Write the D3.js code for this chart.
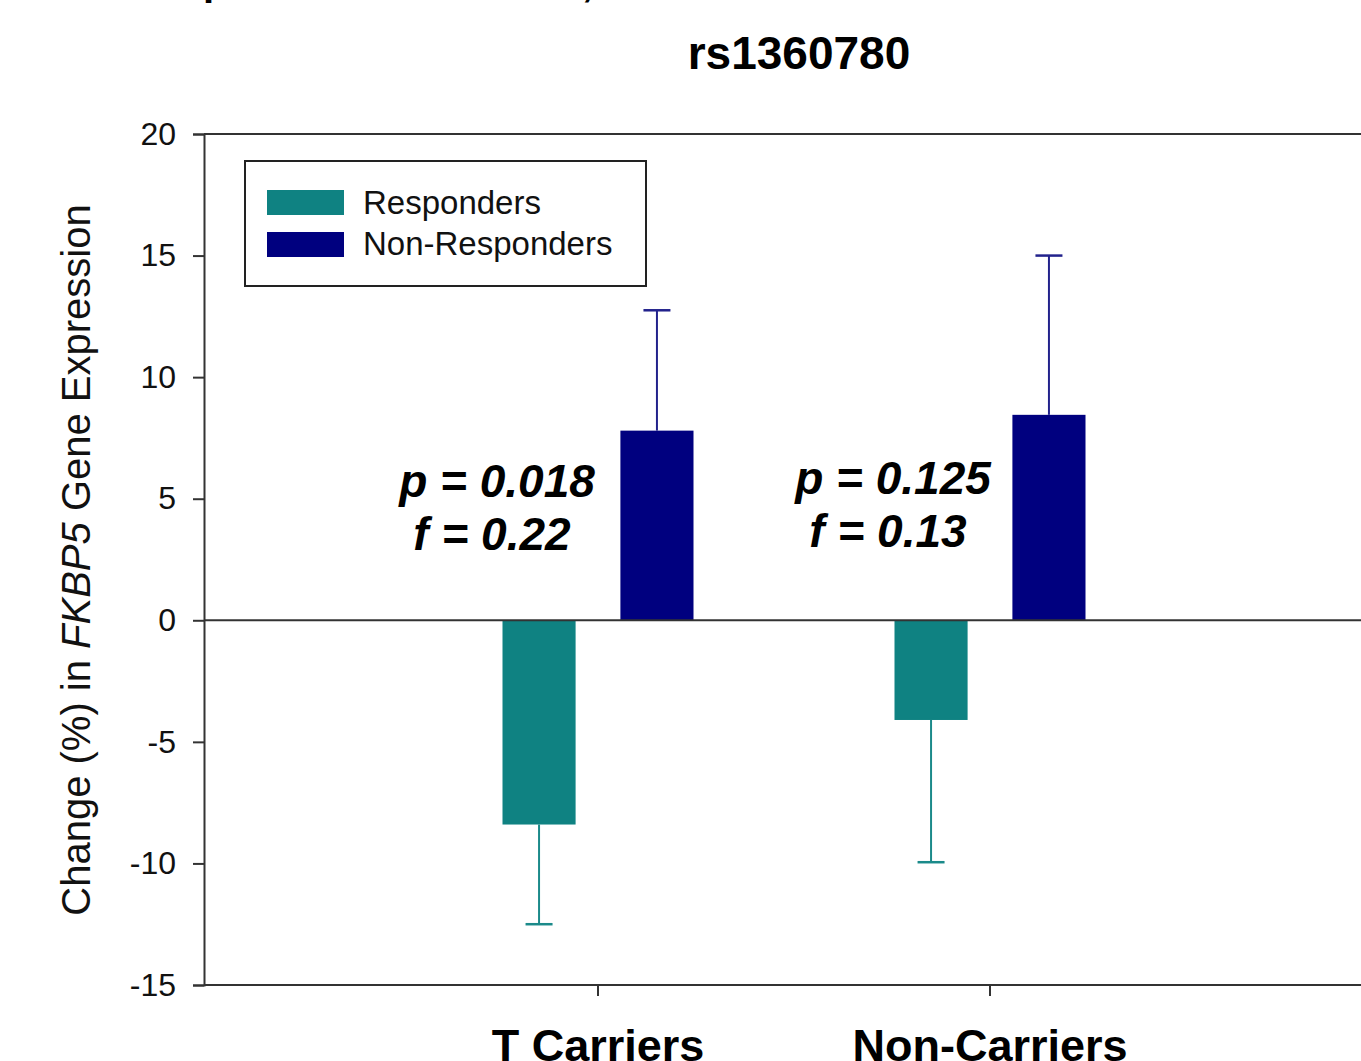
<!DOCTYPE html>
<html>
<head>
<meta charset="utf-8">
<script src="https://cdn.jsdelivr.net/npm/d3@7"></script>
<style>
  html, body { margin: 0; padding: 0; background: #fff; overflow: hidden; }
  svg { display: block; font-family: "Liberation Sans", Arial, sans-serif; }
</style>
</head>
<body>
<svg id="chart" width="1361" height="1061"></svg>
<script>
// Genotype groups and the two response series
const categories = ["T Carriers", "Non-Carriers"];
const seriesNames = ["Responders", "Non-Responders"];
const responderMeans = [-8.4, -4.1];
const responderErrors = [4.1, 5.85];     // error bar drawn downward
const nonResponderMeans = [7.8, 8.45];
const nonResponderErrors = [4.95, 6.55]; // error bar drawn upward
const pValues = ["p = 0.018", "p = 0.125"];
const fValues = ["f = 0.22", "f = 0.13"];
const yTicks = [-15, -10, -5, 0, 5, 10, 15, 20];
const titleText = "rs1360780";

const colors = { "Responders": "#0f8282", "Non-Responders": "#00007f" };
const errColors = { "Responders": "#1b8a8a", "Non-Responders": "#22228c" };

const svg = d3.select("#chart");
const axisColor = "#333";

const plotLeft = 204, plotTop = 134, plotBottom = 985, plotRight = 1400;

const y = d3.scaleLinear().domain([-15, 20]).range([plotBottom, plotTop]);
const x = d3.scaleBand().domain(categories).range([402, 1186]).padding(0);
const xi = d3.scaleBand().domain(seriesNames).range([-95.5, 95.5]).paddingInner(0.38).paddingOuter(0);

// Partially visible heading line above the chart
svg.append("text").attr("x", 203).attr("y", -5)
  .attr("font-size", 40).attr("font-weight", "bold").attr("fill", "#000").text("p");
svg.append("text").attr("x", 582).attr("y", -4)
  .attr("font-size", 40).attr("font-weight", "bold").attr("fill", "#000").text(",");

// Title
svg.append("text").attr("x", 799).attr("y", 69).attr("text-anchor", "middle")
  .attr("font-size", 46).attr("font-weight", "bold").attr("fill", "#000").text(titleText);

// Flatten data
const rows = [];
categories.forEach((c, i) => {
  rows.push({ cat: c, series: "Responders", value: responderMeans[i], err: responderErrors[i] });
  rows.push({ cat: c, series: "Non-Responders", value: nonResponderMeans[i], err: nonResponderErrors[i] });
});

// Bars
svg.append("g").selectAll("rect").data(rows).join("rect")
  .attr("x", d => x(d.cat) + x.bandwidth() / 2 + xi(d.series))
  .attr("width", xi.bandwidth())
  .attr("y", d => y(Math.max(0, d.value)))
  .attr("height", d => Math.abs(y(d.value) - y(0)))
  .attr("fill", d => colors[d.series]);

// One-sided error bars
const eb = svg.append("g");
rows.forEach(d => {
  const cx = x(d.cat) + x.bandwidth() / 2 + xi(d.series) + xi.bandwidth() / 2;
  const end = d.value + Math.sign(d.value) * d.err;
  eb.append("line").attr("x1", cx).attr("x2", cx)
    .attr("y1", y(d.value)).attr("y2", y(end))
    .attr("stroke", errColors[d.series]).attr("stroke-width", 2);
  eb.append("line").attr("x1", cx - 13.5).attr("x2", cx + 13.5)
    .attr("y1", y(end)).attr("y2", y(end))
    .attr("stroke", errColors[d.series]).attr("stroke-width", 2.5);
});

// Zero reference line
svg.append("line").attr("x1", plotLeft).attr("x2", plotRight)
  .attr("y1", y(0)).attr("y2", y(0))
  .attr("stroke", axisColor).attr("stroke-width", 2);

// Frame: top line
svg.append("line").attr("x1", plotLeft).attr("x2", plotRight).attr("y1", plotTop).attr("y2", plotTop)
  .attr("stroke", axisColor).attr("stroke-width", 2);

// Y axis (plain hyphen for negatives)
const yAxis = svg.append("g").attr("transform", `translate(${plotLeft},0)`)
  .call(d3.axisLeft(y).tickValues(yTicks).tickSize(11).tickPadding(17).tickFormat(d => String(d)));
yAxis.select(".domain").attr("stroke", axisColor).attr("stroke-width", 2);
yAxis.selectAll(".tick line").attr("stroke", axisColor).attr("stroke-width", 2);
yAxis.selectAll(".tick text").attr("font-size", 32).attr("fill", "#111")
  .attr("font-family", "Liberation Sans, Arial, sans-serif");

// X axis
const xAxis = svg.append("g").attr("transform", `translate(0,${plotBottom})`)
  .call(d3.axisBottom(x).tickSize(11).tickPadding(0).tickFormat(""));
xAxis.select(".domain").remove();
xAxis.selectAll(".tick line").attr("stroke", axisColor).attr("stroke-width", 2);
svg.append("line").attr("x1", plotLeft).attr("x2", plotRight).attr("y1", plotBottom).attr("y2", plotBottom)
  .attr("stroke", axisColor).attr("stroke-width", 2);

svg.append("g").selectAll("text").data(categories).join("text")
  .attr("x", d => x(d) + x.bandwidth() / 2).attr("y", 1061)
  .attr("text-anchor", "middle").attr("font-size", 45).attr("font-weight", "bold")
  .attr("fill", "#000").text(d => d);

// Y axis title with italic gene name
const yl = svg.append("text").attr("transform", "translate(90,560) rotate(-90)")
  .attr("text-anchor", "middle").attr("font-size", 40).attr("fill", "#111");
yl.append("tspan").text("Change (%) in ");
yl.append("tspan").attr("font-style", "italic").text("FKBP5");
yl.append("tspan").text(" Gene Expression");

// Statistics annotations
const ann = svg.append("g").attr("font-size", 46).attr("font-weight", "bold")
  .attr("font-style", "italic").attr("fill", "#000").attr("text-anchor", "middle");
categories.forEach((c, i) => {
  const cx = x(c) + x.bandwidth() / 2;
  ann.append("text").attr("x", cx - 101 + i * 4).attr("y", 497 - i * 3).text(pValues[i]);
  ann.append("text").attr("x", cx - 106 + i * 4).attr("y", 550 - i * 3).text(fValues[i]);
});

// Legend
const lg = svg.append("g");
lg.append("rect").attr("x", 245).attr("y", 161).attr("width", 401).attr("height", 125)
  .attr("fill", "#fff").attr("stroke", "#222").attr("stroke-width", 2);
seriesNames.forEach((s, i) => {
  lg.append("rect").attr("x", 267).attr("y", 190 + i * 42).attr("width", 77).attr("height", 25)
    .attr("fill", colors[s]);
  lg.append("text").attr("x", 363).attr("y", 214 + i * 41).attr("font-size", 33)
    .attr("fill", "#111").text(s);
});
</script>
</body>
</html>
